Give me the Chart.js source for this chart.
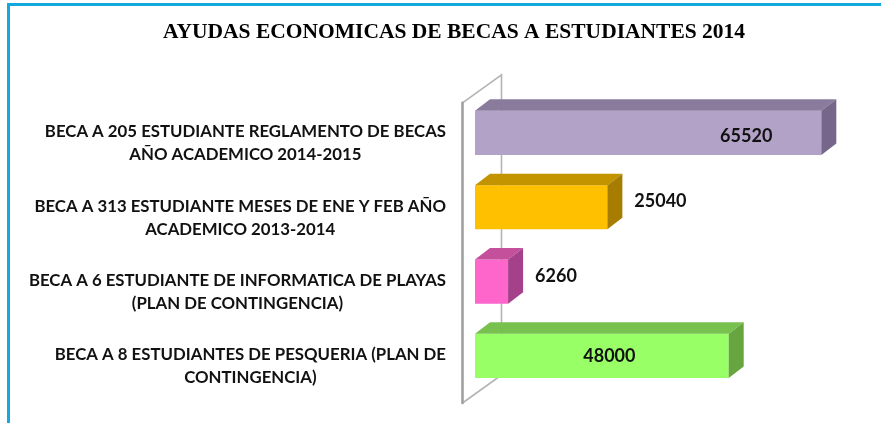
<!DOCTYPE html>
<html><head><meta charset="utf-8">
<script src="https://cdn.jsdelivr.net/npm/chart.js@4.4.1/dist/chart.umd.min.js"></script>
<style>html,body{margin:0;padding:0;background:#fff;} canvas{display:block;}</style>
</head><body>
<canvas id="c" width="881" height="423"></canvas>
<script>
const titleText = 'AYUDAS ECONOMICAS DE BECAS A ESTUDIANTES 2014';
const categories = [
  ['BECA A 205 ESTUDIANTE REGLAMENTO DE BECAS', 'AÑO ACADEMICO 2014-2015'],
  ['BECA A 313 ESTUDIANTE MESES DE ENE Y FEB AÑO', 'ACADEMICO 2013-2014'],
  ['BECA A 6 ESTUDIANTE DE INFORMATICA DE PLAYAS', '(PLAN DE CONTINGENCIA)'],
  ['BECA A 8 ESTUDIANTES DE PESQUERIA (PLAN DE', 'CONTINGENCIA)']
];
const values = [65520, 25040, 6260, 48000];
const frontColors = ['#B3A2C7', '#FFC000', '#FF66CC', '#99FF66'];
const topColors = ['#8A7B9D', '#C39300', '#C4509C', '#78C14F'];
const sideColors = ['#75668A', '#A67D00', '#A5418A', '#66A540'];
const labelModes = ['insideEnd', 'outside', 'outside', 'center'];

const DX = 15, DY = 11.5;

const bar3d = {
  id: 'bar3d',
  beforeDraw(chart) {
    const ctx = chart.ctx;
    ctx.save();
    ctx.fillStyle = '#13A8DE';
    ctx.fillRect(7, 3, chart.width - 7, 3);
    ctx.fillRect(7, 3, 3, chart.height - 3);
    ctx.restore();
  },
  beforeDatasetsDraw(chart) {
    const ctx = chart.ctx, ca = chart.chartArea;
    const fx = ca.left - 12.5, bx = ca.left + 26.5;
    ctx.save();
    ctx.lineCap = 'round';
    ctx.strokeStyle = '#B4B4B4';
    ctx.lineWidth = 1.6;
    ctx.beginPath();
    ctx.moveTo(fx, ca.top + 7); ctx.lineTo(bx, ca.top - 21); ctx.lineTo(bx, ca.bottom - 18);
    ctx.lineTo(fx, ca.bottom + 10);
    ctx.stroke();
    ctx.strokeStyle = '#A0A0A0';
    ctx.lineWidth = 2.6;
    ctx.beginPath();
    ctx.moveTo(fx, ca.top + 7); ctx.lineTo(fx, ca.bottom + 10);
    ctx.stroke();
    ctx.restore();
  },
  afterDatasetsDraw(chart) {
    const ctx = chart.ctx;
    const meta = chart.getDatasetMeta(0);
    ctx.save();
    meta.data.forEach((el, i) => {
      const p = el.getProps(['x', 'y', 'base', 'height'], true);
      const top = p.y - p.height / 2, bot = p.y + p.height / 2;
      ctx.fillStyle = topColors[i];
      ctx.beginPath();
      ctx.moveTo(p.base, top); ctx.lineTo(p.base + DX, top - DY);
      ctx.lineTo(p.x + DX, top - DY); ctx.lineTo(p.x, top); ctx.closePath(); ctx.fill();
      ctx.fillStyle = sideColors[i];
      ctx.beginPath();
      ctx.moveTo(p.x, top); ctx.lineTo(p.x + DX, top - DY);
      ctx.lineTo(p.x + DX, bot - DY); ctx.lineTo(p.x, bot); ctx.closePath(); ctx.fill();
      // data label
      ctx.fillStyle = '#111';
      ctx.font = 'bold 18px Lato';
      ctx.textBaseline = 'middle';
      const txt = String(values[i]);
      if (labelModes[i] === 'insideEnd') {
        ctx.textAlign = 'right'; ctx.fillText(txt, p.x - 49, p.y + 3);
      } else if (labelModes[i] === 'outside') {
        ctx.textAlign = 'left'; ctx.fillText(txt, p.x + DX + 12, p.y - DY / 2);
      } else {
        ctx.textAlign = 'center'; ctx.fillText(txt, (p.base + p.x + DX) / 2, p.y);
      }
    });
    ctx.restore();
  },
  afterDraw(chart) {
    const ctx = chart.ctx, ca = chart.chartArea;
    const ys = chart.scales.y;
    const right = ca.left - 29;
    ctx.save();
    ctx.font = 'bold 16.8px Lato';
    ctx.fillStyle = '#111';
    ctx.textAlign = 'center';
    ctx.textBaseline = 'middle';
    categories.forEach((lines, i) => {
      const cy = ys.getPixelForValue(i) + 10.5;
      const w = Math.max(...lines.map(l => ctx.measureText(l).width));
      const cx = right - w / 2;
      lines.forEach((l, k) => {
        ctx.fillText(l, cx, cy + (k - (lines.length - 1) / 2) * 23);
      });
    });
    ctx.restore();
  }
};

new Chart(document.getElementById('c'), {
  type: 'bar',
  data: {
    labels: categories,
    datasets: [{
      data: values,
      backgroundColor: frontColors,
      borderWidth: 0,
      barPercentage: 0.595,
      categoryPercentage: 1
    }]
  },
  options: {
    indexAxis: 'y',
    responsive: false,
    animation: false,
    layout: { padding: { left: 63, right: 36, top: 0, bottom: 30 } },
    scales: {
      x: { display: false, min: 0, max: 70000 },
      y: {
        display: true,
        ticks: { display: false },
        grid: { display: false },
        border: { display: false },
        afterFit(s) { s.width = 412; }
      }
    },
    plugins: {
      legend: { display: false },
      tooltip: { enabled: false },
      title: {
        display: true,
        text: titleText,
        color: '#000',
        font: { family: 'Liberation Serif', weight: 'bold', size: 21.5, lineHeight: 1.2 },
        padding: { top: 20, bottom: 50 }
      }
    }
  },
  plugins: [bar3d]
});
</script>
</body></html>
